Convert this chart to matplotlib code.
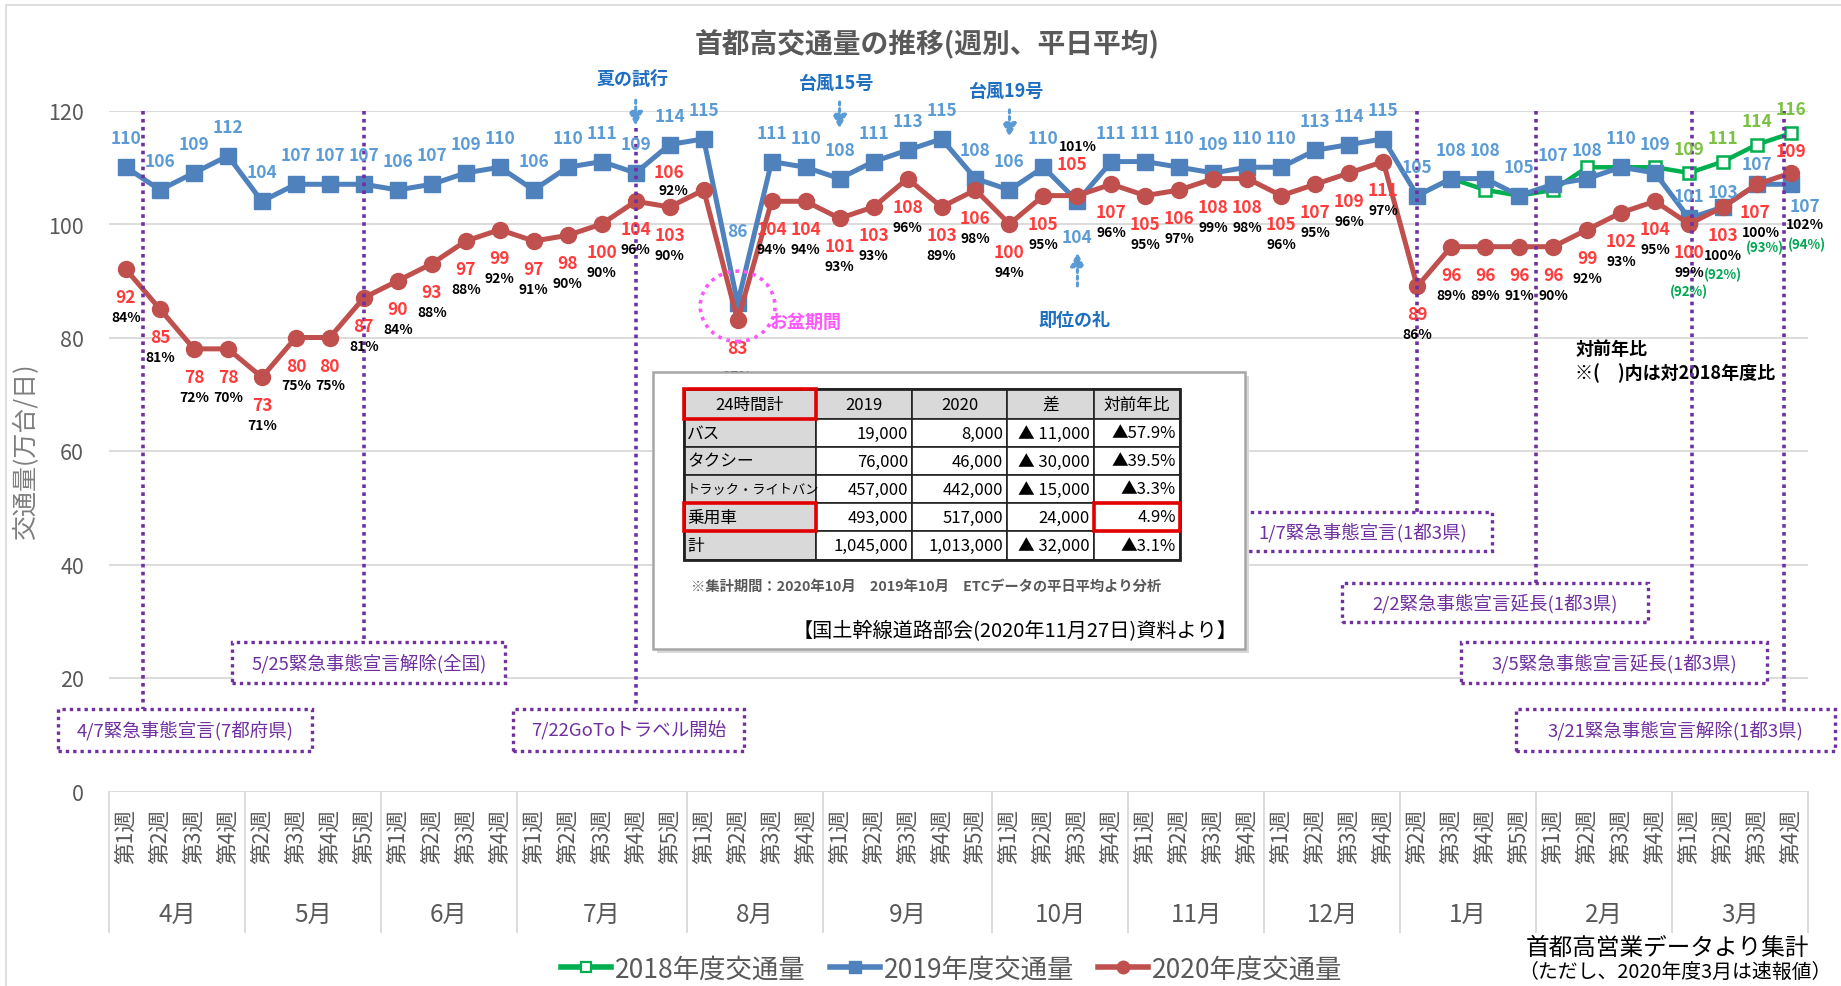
import numpy as np
import matplotlib

matplotlib.use("Agg")

import matplotlib.pyplot as plt
from matplotlib.lines import Line2D
from matplotlib.patches import Ellipse, Rectangle
from matplotlib.transforms import blended_transform_factory

plt.rcParams["font.family"] = ["Noto Sans CJK JP", "DejaVu Sans"]

# ---- data -------------------------------------------------------------
months = ["4月", "5月", "6月", "7月", "8月", "9月", "10月", "11月", "12月", "1月", "2月", "3月"]
month_weeks = [
    [1, 2, 3, 4], [2, 3, 4, 5], [1, 2, 3, 4], [1, 2, 3, 4, 5],
    [1, 2, 3, 4], [1, 2, 3, 4, 5], [1, 2, 3, 4], [1, 2, 3, 4],
    [1, 2, 3, 4], [2, 3, 4, 5], [1, 2, 3, 4], [1, 2, 3, 4],
]

fy2019 = [110, 106, 109, 112, 104, 107, 107, 107, 106, 107, 109, 110,
          106, 110, 111, 109, 114, 115, 86, 111, 110, 108, 111, 113, 115, 108,
          106, 110, 104, 111, 111, 110, 109, 110, 110, 113, 114, 115,
          105, 108, 108, 105, 107, 108, 110, 109, 101, 103, 107, 107]

fy2020 = [92, 85, 78, 78, 73, 80, 80, 87, 90, 93, 97, 99,
          97, 98, 100, 104, 103, 106, 83, 104, 104, 101, 103, 108, 103, 106,
          100, 105, 105, 107, 105, 106, 108, 108, 105, 107, 109, 111,
          89, 96, 96, 96, 96, 99, 102, 104, 100, 103, 107, 109]

fy2018 = [np.nan] * 38 + [105, 108, 106, 105, 106, 110, 110, 110, 109, 111, 114, 116]

pct_vs_2019 = [84, 81, 72, 70, 71, 75, 75, 81, 84, 88, 88, 92,
               91, 90, 90, 96, 90, 92, 97, 94, 94, 93, 93, 96, 89, 98,
               94, 95, 101, 96, 95, 97, 99, 98, 96, 95, 96, 97,
               86, 89, 89, 91, 90, 92, 93, 95, 99, 100, 100, 102]

pct_vs_2018 = [None] * 46 + [92, 92, 93, 94]
labeled_2018 = [46, 47, 48, 49]

events = [
    "4/7緊急事態宣言(7都府県)",
    "5/25緊急事態宣言解除(全国)",
    "7/22GoToトラベル開始",
    "1/7緊急事態宣言(1都3県)",
    "2/2緊急事態宣言延長(1都3県)",
    "3/5緊急事態宣言延長(1都3県)",
    "3/21緊急事態宣言解除(1都3県)",
]

table_rows = [
    ["24時間計", "2019", "2020", "差", "対前年比"],
    ["バス", "19,000", "8,000", "▲ 11,000", "▲57.9%"],
    ["タクシー", "76,000", "46,000", "▲ 30,000", "▲39.5%"],
    ["トラック・ライトバン", "457,000", "442,000", "▲ 15,000", "▲3.3%"],
    ["乗用車", "493,000", "517,000", "24,000", "4.9%"],
    ["計", "1,045,000", "1,013,000", "▲ 32,000", "▲3.1%"],
]
table_note = "※集計期間：2020年10月　2019年10月　ETCデータの平日平均より分析"
table_source = "【国土幹線道路部会(2020年11月27日)資料より】"

# ---- styles -----------------------------------------------------------
GREEN = "#00B050"
BLUE = "#4F81BD"
RED = "#C0504D"
BLUE_TXT = "#5B9BD5"
RED_TXT = "#FF3B3B"
GREEN_TXT = "#7CC242"
PCT18_TXT = "#00A651"
PURPLE = "#7030A0"
NOTE_BLUE = "#1F6FC0"
PINK = "#FF55FF"
GRAY_TXT = "#595959"
GRID = "#D9D9D9"

W, H = 1841, 987


def fx(px):
    return px / W


def fy(py):
    return 1 - py / H


fig = plt.figure(figsize=(W / 100, H / 100), dpi=100)
fig.add_artist(Rectangle((fx(6), fy(1100)), 2, fy(6) - fy(1100), transform=fig.transFigure,
                         fill=False, ec="#D9D9D9", lw=1.2))

ax = fig.add_axes([fx(109), fy(792.5), fx(1808) - fx(109), (792.5 - 111.5) / H])
x = np.arange(len(fy2019))

ax.plot(x, fy2018, color=GREEN, lw=3.2, marker="s", ms=8.5, mfc="white", mec=GREEN, mew=1.8, zorder=3)
ax.plot(x, fy2019, color=BLUE, lw=3.6, marker="s", ms=11.5, zorder=3)
ax.plot(x, fy2020, color=RED, lw=3.6, marker="o", ms=11.5, zorder=3)

ax.set_xlim(-0.5, len(x) - 0.5)
ax.set_ylim(0, 120)
ax.set_yticks(range(0, 121, 20))
ax.grid(axis="y", color=GRID, lw=1.3)
ax.set_axisbelow(True)
for s in ax.spines.values():
    s.set_visible(False)
ax.tick_params(axis="y", length=0, pad=18, labelsize=15.5, labelcolor=GRAY_TXT)

week_labels = [f"第{w}週" for wk in month_weeks for w in wk]
ax.set_xticks(x)
ax.set_xticklabels(week_labels, rotation=90, va="top", ha="center", fontsize=15.5, color=GRAY_TXT)
ax.tick_params(axis="x", length=0, pad=12)

# month labels + separators
trans = blended_transform_factory(ax.transData, ax.transAxes)
start = 0
bounds = [-0.5]
for m, wk in zip(months, month_weeks):
    center = start + (len(wk) - 1) / 2
    ax.text(center, -0.18, m, transform=trans, ha="center", va="center", fontsize=17.5, color=GRAY_TXT)
    start += len(wk)
    bounds.append(start - 0.5)
for b in bounds:
    ax.plot([b, b], [0, -0.206], transform=trans, color=GRID, lw=1.3, clip_on=False)

# ---- data labels --------------------------------------------------------
blue_off = {18: (0, 72), 28: (0, -36), 46: (0, 22), 47: (0, 15), 48: (0, 20), 49: (14, -22)}
red_off = {17: ((-35, 18), (-30, 0)), 18: ((0, -28), (0, -56)), 28: ((-5, 32), (0, 50)),
           48: ((-2, -28), (4, -48)), 49: ((0, 22), (14, -51))}
pct18_off = {48: (8, -63), 49: (16, -71)}


def label(txt, xy, off, color, size, weight="bold"):
    ax.annotate(txt, xy, xytext=off, textcoords="offset pixels", ha="center", va="center",
                color=color, fontsize=size, fontweight=weight, annotation_clip=False, zorder=6)


for i, v in enumerate(fy2019):
    label(str(v), (i, v), blue_off.get(i, (0, 29)), BLUE_TXT, 12.5)

for i, v in enumerate(fy2020):
    loff, poff = red_off.get(i, ((0, -28), (0, -48)))
    label(str(v), (i, v), loff, RED_TXT, 12.5)
    label(f"{pct_vs_2019[i]}%", (i, v), poff, "black", 10)
    if pct_vs_2018[i] is not None:
        label(f"({pct_vs_2018[i]}%)", (i, v), pct18_off.get(i, (0, -67)), PCT18_TXT, 9.5)

for i in labeled_2018:
    label(str(fy2018[i]), (i, fy2018[i]), (0, 24), GREEN_TXT, 12.5)

# ---- event lines and boxes ---------------------------------------------
# (line x, line top, box x0, box x1, box y0, box y1)
event_layout = [
    (0.5, 120, -1.99, 5.48, 7.2, 14.5),
    (7.0, 120, 3.13, 11.16, 19.2, 26.3),
    (15.0, 117, 11.4, 18.2, 7.2, 14.5),
    (38.0, 120, 32.6, 40.2, 42.4, 49.2),
    (41.5, 120, 35.8, 44.8, 29.8, 36.8),
    (46.1, 120, 39.3, 48.3, 19.2, 26.3),
    (48.8, 120, 40.9, 50.3, 7.2, 14.5),
]
for txt, (lx, ltop, x0, x1, y0, y1) in zip(events, event_layout):
    ax.plot([lx, lx], [ltop, y1], color=PURPLE, lw=2.6, ls=(0, (1, 1.2)), zorder=5, clip_on=False)
    ax.add_patch(Rectangle((x0, y0), x1 - x0, y1 - y0, fc="white", ec=PURPLE, lw=2.4,
                           ls=(0, (1, 1.2)), zorder=5, clip_on=False))
    ax.text((x0 + x1) / 2, (y0 + y1) / 2, txt, ha="center", va="center", fontsize=13.3,
            color=PURPLE, zorder=6, clip_on=False)

# ---- notes -----------------------------------------------------------------
arrow_style = dict(arrowstyle="-|>", color=BLUE_TXT, lw=2.2, ls=(0, (1, 1.2)), mutation_scale=20)
for txt, xi, ty, a0, a1 in [("夏の試行", 15.0, 125.6, 122.3, 116.8),
                             ("台風15号", 21.0, 125.0, 122.0, 116.3),
                             ("台風19号", 26.0, 123.5, 120.6, 114.8)]:
    ax.text(xi - 0.1, ty, txt, ha="center", va="center", fontsize=13, fontweight="bold",
            color=NOTE_BLUE, clip_on=False, zorder=6)
    ax.annotate("", xy=(xi, a1), xytext=(xi, a0), arrowprops=arrow_style, annotation_clip=False, zorder=6)

ax.text(27.9, 83.2, "即位の礼", ha="center", va="center", fontsize=13, fontweight="bold",
        color=NOTE_BLUE, zorder=6)
ax.annotate("", xy=(28, 95.5), xytext=(28, 88.6), arrowprops=arrow_style, zorder=6)

ax.add_patch(Ellipse((18, 85.5), 2.2, 12.4, fill=False, ec=PINK, lw=2.6, ls=(0, (1, 1.4)), zorder=6))
ax.text(18.95, 82.8, "お盆期間", ha="left", va="center", fontsize=13, fontweight="bold", color=PINK, zorder=6)

ax.text(42.65, 78.0, "対前年比", ha="left", va="center", fontsize=13, fontweight="bold", color="black")
ax.text(42.65, 73.9, "※(　)内は対2018年度比", ha="left", va="center", fontsize=13,
        fontweight="bold", color="black")

# ---- inset table ------------------------------------------------------------
tax = fig.add_axes([fx(653), fy(650), fx(1245) - fx(653), (650 - 373) / H])
tax.set_xlim(0, 592)
tax.set_ylim(277, 0)
tax.axis("off")
tax.add_patch(Rectangle((4, 4), 592, 277, fc="#D8D8D8", ec="none", clip_on=False, zorder=0))
tax.add_patch(Rectangle((0, 0), 592, 277, fc="white", ec="#A6A6A6", lw=1.8, clip_on=False, zorder=1))

col_edges = [31, 163, 259, 354, 441, 527]
row_edges = [17, 47, 75, 103, 131, 159, 188]
for r, row in enumerate(table_rows):
    for c, val in enumerate(row):
        cx0, cx1 = col_edges[c], col_edges[c + 1]
        cy0, cy1 = row_edges[r], row_edges[r + 1]
        fc = "#D9D9D9" if (r == 0 or c == 0) else "white"
        tax.add_patch(Rectangle((cx0, cy0), cx1 - cx0, cy1 - cy0, fc=fc, ec="#222222", lw=1.2, zorder=2))
        cy = (cy0 + cy1) / 2
        size = 9.5 if val == "トラック・ライトバン" else 12
        if r == 0:
            tax.text((cx0 + cx1) / 2, cy, val, ha="center", va="center", fontsize=size, zorder=3)
        elif c == 0:
            tax.text(cx0 + 3, cy, val, ha="left", va="center", fontsize=size, zorder=3)
        else:
            tax.text(cx1 - 4, cy, val, ha="right", va="center", fontsize=size, zorder=3)
tax.add_patch(Rectangle((col_edges[0], row_edges[0]), col_edges[-1] - col_edges[0],
                        row_edges[-1] - row_edges[0], fill=False, ec="#222222", lw=2, zorder=4))
for r, c in [(0, 0), (4, 0), (4, 4)]:
    tax.add_patch(Rectangle((col_edges[c], row_edges[r]), col_edges[c + 1] - col_edges[c],
                            row_edges[r + 1] - row_edges[r], fill=False, ec="#E00000", lw=2.6, zorder=5))
tax.text(38, 214, table_note, ha="left", va="center", fontsize=10.3, fontweight="bold", color=GRAY_TXT)
tax.text(584, 259, table_source, ha="right", va="center", fontsize=14.5, color="black")

# ---- titles, legend, footer ------------------------------------------------
fig.text(fx(927), fy(45), "首都高交通量の推移(週別、平日平均)", ha="center", va="center",
         fontsize=20, fontweight="bold", color=GRAY_TXT)
fig.text(fx(26), fy(452), "交通量(万台/日)", rotation=90, ha="center", va="center",
         fontsize=18, color="#7F7F7F")

handles = [
    Line2D([], [], color=GREEN, lw=4, marker="s", ms=7, mfc="white", mec=GREEN, mew=1.6),
    Line2D([], [], color=BLUE, lw=4, marker="s", ms=9),
    Line2D([], [], color=RED, lw=4, marker="o", ms=9),
]
leg = fig.legend(handles, ["2018年度交通量", "2019年度交通量", "2020年度交通量"], loc="center",
                 bbox_to_anchor=(0.517, fy(970)), ncol=3, frameon=False, fontsize=19,
                 handlelength=1.9, handletextpad=0.15, columnspacing=0.9, borderpad=0.1)
for t in leg.get_texts():
    t.set_color(GRAY_TXT)

fig.text(fx(1526), fy(948), "首都高営業データより集計", ha="left", va="center", fontsize=17, color="black")
fig.text(fx(1518), fy(972), "（ただし、2020年度3月は速報値）", ha="left", va="center", fontsize=14.3,
         color="black")

fig.savefig("out.png", dpi=100)
